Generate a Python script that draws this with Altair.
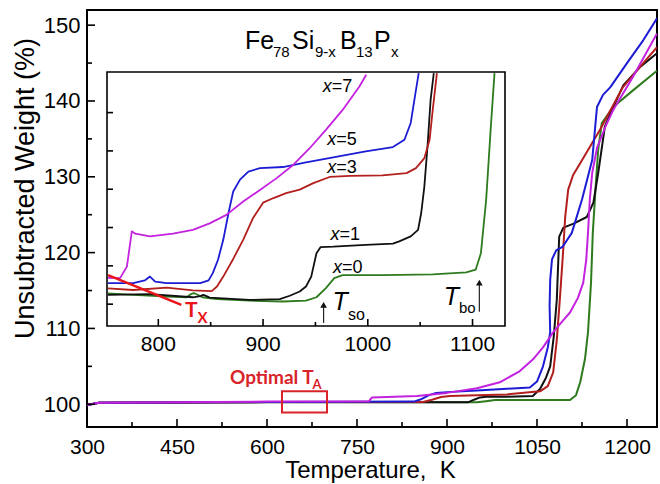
import altair as alt
import pandas as pd

FONT = "Liberation Sans"
SERIES = ["x=0", "x=1", "x=3", "x=5", "x=7"]
COLORS = ["#2e7b1e", "#111111", "#b31f1d", "#1c1cd4", "#c322de"]

# ---------------- main panel (Temperature K, Unsubtracted weight %) ----------------
MAIN_T_X0 = [300, 320, 500, 700, 950, 965, 980, 1000, 1105, 1115, 1122, 1130, 1135, 1140, 1143, 1148, 1152, 1158, 1177, 1210, 1250]
MAIN_W_X0 = [99.9, 100.2, 100.3, 100.3, 100.25, 100.4, 100.55, 100.55, 100.55, 101.2, 102.9, 106, 109.5, 116, 122.6, 129, 133.6, 137.1, 139.2, 141.4, 144]

MAIN_T_X1 = [300, 320, 600, 935, 945, 955, 965, 1000, 1043, 1055, 1065, 1072, 1078, 1083, 1087, 1094, 1110, 1133, 1144, 1152, 1160, 1163, 1172, 1194, 1222, 1250]
MAIN_W_X1 = [99.9, 100.2, 100.25, 100.25, 100.6, 100.9, 101.0, 101.0, 101.1, 102, 103.5, 105, 109, 113.8, 122.1, 123.3, 123.8, 124.7, 126.6, 130.5, 134.9, 136.6, 138.3, 142.1, 144.5, 146.3]

MAIN_T_X3 = [300, 320, 600, 860, 875, 890, 905, 950, 1000, 1055, 1068, 1077, 1083, 1088, 1093, 1097, 1102, 1110, 1122, 1155, 1193, 1227, 1250]
MAIN_W_X3 = [99.9, 100.2, 100.3, 100.3, 100.6, 100.95, 101.1, 101.2, 101.3, 101.7, 102.4, 104.2, 108.5, 113.8, 119.5, 124.7, 128.3, 130.2, 131.8, 136.2, 141.8, 145, 147.1]

MAIN_T_X5 = [300, 320, 600, 845, 858, 870, 882, 900, 950, 1000, 1038, 1050, 1060, 1068, 1072, 1071, 1072, 1075, 1082, 1093, 1108, 1125, 1142, 1147, 1150, 1160, 1172, 1200, 1227, 1250]
MAIN_W_X5 = [99.9, 100.2, 100.3, 100.35, 100.7, 101.2, 101.5, 101.6, 101.8, 102.05, 102.2, 103, 105, 107.5, 109.5, 113, 116.4, 119.1, 120.3, 120.8, 122.6, 127, 132.2, 136.6, 139.2, 140.8, 141.8, 145, 148, 150.9]

MAIN_T_X7 = [300, 320, 600, 770, 775, 800, 850, 900, 950, 988, 1020, 1043, 1060, 1077, 1095, 1105, 1118, 1127, 1132, 1135, 1138, 1142, 1150, 1165, 1177, 1210, 1250]
MAIN_W_X7 = [99.9, 100.2, 100.35, 100.4, 100.9, 100.95, 101.1, 101.5, 102.1, 102.9, 104.3, 105.9, 107.5, 109.5, 111.2, 112.1, 114, 116, 119, 122.6, 127, 130.5, 133.8, 136.8, 138.8, 143.2, 148.9]

MAIN_X_MAJOR = [300, 450, 600, 750, 900, 1050, 1200]
MAIN_X_MINOR = [375, 525, 675, 825, 975, 1125]
MAIN_Y_MAJOR = [100, 110, 120, 130, 140, 150]
MAIN_Y_MINOR = [105, 115, 125, 135, 145]

# ---------------- inset (Temperature K, relative weight in tick units) ----------------
INSET_T_X0 = [752, 776, 808, 827, 831, 834, 838, 842, 856, 887, 919, 941, 951, 960, 968, 976, 1014, 1062, 1094, 1103, 1108, 1113, 1117.5, 1121]
INSET_V_X0 = [1.28, 1.24, 1.20, 1.18, 1.26, 1.29, 1.24, 1.18, 1.13, 1.09, 1.07, 1.09, 1.18, 1.42, 1.68, 1.76, 1.76, 1.78, 1.83, 1.90, 2.33, 3.72, 5.64, 7.03]

INSET_T_X1 = [752, 792, 833, 840, 843, 846, 849, 887, 916, 925.5, 935, 941, 946, 951, 955, 967, 998, 1024, 1030, 1041, 1048, 1051, 1054, 1057, 1060, 1063]
INSET_V_X1 = [1.24, 1.26, 1.18, 1.21, 1.24, 1.21, 1.17, 1.11, 1.13, 1.22, 1.33, 1.46, 1.72, 2.33, 2.49, 2.50, 2.55, 2.58, 2.64, 2.77, 2.94, 3.38, 4.07, 5.12, 6.34, 7.03]

INSET_T_X3 = [752, 776, 808, 833, 851, 856, 862, 871.5, 881, 890.5, 900, 910, 922, 935, 948, 963.5, 983, 1014, 1037, 1046, 1054, 1059, 1062, 1066]
INSET_V_X3 = [1.41, 1.37, 1.43, 1.36, 1.34, 1.46, 1.72, 2.18, 2.68, 3.25, 3.65, 3.77, 3.90, 3.99, 4.16, 4.32, 4.35, 4.36, 4.42, 4.55, 4.81, 5.29, 6.07, 7.03]

INSET_T_X5 = [752, 776, 787, 792, 797, 808, 840, 848, 852, 857, 862, 867, 871.5, 878, 886, 897, 919, 941, 967, 998, 1024, 1035, 1041, 1045.5, 1048.6]
INSET_V_X5 = [1.55, 1.55, 1.62, 1.72, 1.59, 1.55, 1.55, 1.62, 1.81, 2.16, 2.68, 3.38, 3.94, 4.25, 4.46, 4.55, 4.58, 4.70, 4.83, 4.99, 5.10, 5.29, 5.73, 6.51, 7.03]

INSET_T_X7 = [752, 763.5, 770, 774.7, 778, 792, 814, 833, 849, 865, 881, 897, 913, 929, 944.5, 960, 976, 992, 998.5]
INSET_V_X7 = [1.69, 1.68, 1.98, 2.90, 2.84, 2.77, 2.84, 2.94, 3.11, 3.33, 3.68, 3.98, 4.29, 4.64, 5.07, 5.55, 6.07, 6.68, 6.99]

INSET_X_MAJOR = [800, 900, 1000, 1100]
INSET_X_MINOR = [850, 950, 1050]
INSET_Y_TICKS = [1, 2, 3, 4, 5, 6]

TX_T = [752, 822]
TX_V = [1.76, 0.98]

LABEL_TEXT = ["=7", "=5", "=3", "=1", "=0"]
LABEL_T = [956.9, 961.3, 961.3, 964.5, 966.7]
LABEL_V = [6.54, 5.16, 4.42, 2.68, 1.81]


def long_df(Ts_list, Vs_list):
    rows = []
    for s, Ts, Vs in zip(SERIES, Ts_list, Vs_list):
        for i, (t, v) in enumerate(zip(Ts, Vs)):
            rows.append({"series": s, "T": t, "W": v, "i": i})
    return pd.DataFrame(rows)


main_df = long_df([MAIN_T_X0, MAIN_T_X1, MAIN_T_X3, MAIN_T_X5, MAIN_T_X7],
                  [MAIN_W_X0, MAIN_W_X1, MAIN_W_X3, MAIN_W_X5, MAIN_W_X7])
inset_df = long_df([INSET_T_X0, INSET_T_X1, INSET_T_X3, INSET_T_X5, INSET_T_X7],
                   [INSET_V_X0, INSET_V_X1, INSET_V_X3, INSET_V_X5, INSET_V_X7])
ONE = pd.DataFrame({"k": [0]})

PW, PH = 570, 417
mx = alt.Scale(domain=[300, 1250], nice=False, zero=False)
my = alt.Scale(domain=[97, 152], nice=False, zero=False)
cscale = alt.Scale(domain=SERIES, range=COLORS)

IX0, IX1 = 751, 1131
IY0, IY1 = 0.43, 7.06
ix = alt.Scale(domain=[IX0, IX1], range=[20, 418], nice=False, zero=False)
iy = alt.Scale(domain=[IY0, IY1], range=[316, 62], nice=False, zero=False)

x_axis = alt.Axis(values=MAIN_X_MAJOR, format="d", ticks=False, domain=False, grid=False,
                  labelFont=FONT, labelFontSize=21, labelColor="black", labelPadding=9,
                  labelFlush=False, labelOverlap=False, orient="bottom",
                  title="Temperature,\u00a0\u00a0K", titleFont=FONT, titleFontSize=24,
                  titleFontWeight="normal", titleColor="black",
                  titleX=283, titleY=43, titleBaseline="middle", titleAlign="center")
y_axis = alt.Axis(values=MAIN_Y_MAJOR, format="d", ticks=False, domain=False, grid=False,
                  labelFont=FONT, labelFontSize=22, labelColor="black", labelPadding=7,
                  labelFlush=False, labelOverlap=False, orient="left",
                  title="Unsubtracted Weight (%)", titleFont=FONT, titleFontSize=27,
                  titleFontWeight="normal", titleColor="black",
                  titleX=-62, titleY=178, titleBaseline="middle", titleAlign="center", titleAngle=270)

main_lines = alt.Chart(main_df).mark_line(strokeWidth=2, clip=True, strokeJoin="round").encode(
    x=alt.X("T:Q", scale=mx, axis=x_axis),
    y=alt.Y("W:Q", scale=my, axis=y_axis),
    color=alt.Color("series:N", scale=cscale, legend=None),
    detail="series:N",
    order=alt.Order("i:Q"),
)


def xticks(vals, length, sc, ypix):
    return alt.Chart(pd.DataFrame({"T": vals})).mark_rule(color="black", strokeWidth=1.6).encode(
        x=alt.X("T:Q", scale=sc, axis=None),
        y=alt.value(ypix), y2=alt.value(ypix - length))


def yticks(vals, length, sc, xpix):
    return alt.Chart(pd.DataFrame({"W": vals})).mark_rule(color="black", strokeWidth=1.6).encode(
        y=alt.Y("W:Q", scale=sc, axis=None),
        x=alt.value(xpix), x2=alt.value(xpix + length))


def txt(t, w, s, size, sc_x, sc_y, color="black", style="normal", weight="normal", font=FONT):
    return alt.Chart(ONE).mark_text(text=s, align="left", baseline="alphabetic", font=font,
                                    fontSize=size, color=color, fontStyle=style, fontWeight=weight).encode(
        x=alt.X(datum=t, type="quantitative", scale=sc_x, axis=None),
        y=alt.Y(datum=w, type="quantitative", scale=sc_y, axis=None))


RED = "#d9232a"
opt_box = alt.Chart(ONE).mark_rect(filled=False, stroke=RED, strokeWidth=2).encode(
    x=alt.X(datum=625, type="quantitative", scale=mx, axis=None), x2=alt.X2(datum=700),
    y=alt.Y(datum=98.9, type="quantitative", scale=my, axis=None), y2=alt.Y2(datum=101.7))

inset_frame = alt.Chart(ONE).mark_rect(fill="white", stroke="black", strokeWidth=1.6).encode(
    x=alt.X(datum=IX0, type="quantitative", scale=ix, axis=None), x2=alt.X2(datum=IX1),
    y=alt.Y(datum=IY0, type="quantitative", scale=iy, axis=None), y2=alt.Y2(datum=IY1))

inset_lines = alt.Chart(inset_df).mark_line(strokeWidth=1.8, strokeJoin="round").encode(
    x=alt.X("T:Q", scale=ix, axis=None),
    y=alt.Y("W:Q", scale=iy, axis=None),
    color=alt.Color("series:N", scale=cscale, legend=None),
    detail="series:N",
    order=alt.Order("i:Q"),
)

tx_line = alt.Chart(pd.DataFrame({"T": TX_T, "W": TX_V})).mark_line(color="#e8161b", strokeWidth=2.5).encode(
    x=alt.X("T:Q", scale=ix, axis=None), y=alt.Y("W:Q", scale=iy, axis=None))

inset_xlabels = alt.Chart(pd.DataFrame({"T": INSET_X_MAJOR, "lab": [str(v) for v in INSET_X_MAJOR]})).mark_text(
    font=FONT, fontSize=21, color="black", baseline="middle", align="center").encode(
    x=alt.X("T:Q", scale=ix, axis=None), y=alt.value(335), text="lab:N")

labels_df = pd.DataFrame({"T": LABEL_T, "W": LABEL_V, "lab": LABEL_TEXT})
lab_x = alt.Chart(labels_df).mark_text(text="x", font=FONT, fontSize=18, fontStyle="italic",
                                      align="left", baseline="alphabetic", color="black").encode(
    x=alt.X("T:Q", scale=ix, axis=None), y=alt.Y("W:Q", scale=iy, axis=None))
lab_eq = alt.Chart(labels_df).mark_text(font=FONT, fontSize=18, dx=9,
                                       align="left", baseline="alphabetic", color="black").encode(
    x=alt.X("T:Q", scale=ix, axis=None), y=alt.Y("W:Q", scale=iy, axis=None), text="lab:N")


def arrow(t, v_bot, v_top, v_head):
    shaft = alt.Chart(ONE).mark_rule(color="#222222", strokeWidth=1.2).encode(
        x=alt.X(datum=t, type="quantitative", scale=ix, axis=None),
        y=alt.Y(datum=v_bot, type="quantitative", scale=iy, axis=None), y2=alt.Y2(datum=v_top))
    head = alt.Chart(ONE).mark_point(shape="triangle-up", filled=True, color="#111111", size=45, opacity=1).encode(
        x=alt.X(datum=t, type="quantitative", scale=ix, axis=None),
        y=alt.Y(datum=v_head, type="quantitative", scale=iy, axis=None))
    return [shaft, head]


layers = [
    main_lines,
    xticks(MAIN_X_MAJOR, 8, mx, PH), xticks(MAIN_X_MINOR, 5, mx, PH),
    yticks(MAIN_Y_MAJOR, 8, my, 0), yticks(MAIN_Y_MINOR, 5, my, 0),
    opt_box,
    txt(538.3, 102.63, "Optimal T", 19, mx, my, RED, weight="bold", font="Lato"),
    txt(676, 101.97, "A", 13, mx, my, RED, weight="bold", font="Lato"),
    txt(563.3, 146.88, "Fe", 25, mx, my),
    txt(610, 145.79, "78", 15, mx, my),
    txt(641.7, 146.88, "Si", 25, mx, my),
    txt(680, 145.79, "9-x", 15, mx, my),
    txt(721.7, 146.88, "B", 25, mx, my),
    txt(748.3, 145.79, "13", 15, mx, my),
    txt(778.3, 146.88, "P", 25, mx, my),
    txt(806.7, 145.79, "x", 15, mx, my),
    inset_frame,
    inset_lines,
    tx_line,
    xticks(INSET_X_MAJOR, 7, ix, 316), xticks(INSET_X_MINOR, 4, ix, 316),
    yticks(INSET_Y_TICKS, 6, iy, 20),
    inset_xlabels,
    lab_x, lab_eq,
    *arrow(957.8, 0.51, 0.98, 0.98),
    *arrow(1106.5, 0.80, 1.56, 1.56),
    txt(966.4, 0.85, "T", 25, ix, iy, style="italic"),
    txt(981, 0.59, "so", 16, ix, iy),
    txt(1072.5, 0.98, "T", 25, ix, iy, style="italic"),
    txt(1087, 0.78, "bo", 15, ix, iy),
    txt(825.4, 0.67, "T", 21, ix, iy, "#e8161b", weight="bold", font="Lato"),
    txt(837.5, 0.51, "X", 15, ix, iy, "#e8161b", weight="bold", font="Lato"),
]

chart = alt.layer(*layers).resolve_scale(
    x="independent", y="independent"
).properties(
    width=PW, height=PH,
    autosize=alt.AutoSizeParams(type="none"),
    padding={"left": 87, "top": 10, "right": 3, "bottom": 57},
    background="white",
).configure_view(stroke="black", strokeWidth=2)

chart.save("out.html", embed_options={"renderer": "svg", "actions": False})
